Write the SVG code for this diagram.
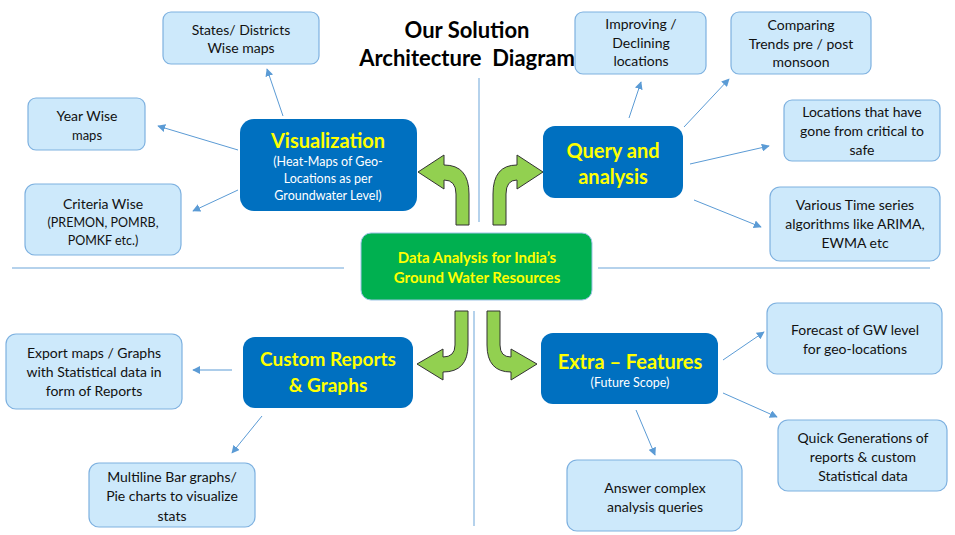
<svg xmlns="http://www.w3.org/2000/svg" width="955" height="535" viewBox="0 0 955 535">
<defs>
<style>
text{font-family:Lato,"Liberation Sans",sans-serif;text-anchor:middle}
.lb{fill:#CDE9FB;stroke:#7EB1E0;stroke-width:1.2}
.lt{font-size:14px;fill:#111}
.db{fill:#0070C0}
.hd{font-size:20px;font-weight:bold;fill:#FFFF00}
.sb{font-size:12.5px;fill:#fff}
.cn{stroke:#5B9BD5;stroke-width:1;fill:none;marker-end:url(#ah)}
.sep{stroke:#9DC3E6;stroke-width:1.5}
.ga{fill:#92D050;stroke:#333;stroke-width:1}
</style>
<marker id="ah" viewBox="0 0 10 10" refX="9" refY="5" markerWidth="8" markerHeight="8" orient="auto" markerUnits="userSpaceOnUse">
<path d="M0,0 L10,5 L0,10 Z" fill="#5B9BD5"/>
</marker>
</defs>
<rect width="955" height="535" fill="#fff"/>
<g id="separators">
<line class="sep" x1="12" y1="268" x2="344" y2="268"/>
<line class="sep" x1="598" y1="268" x2="930" y2="268"/>
<line class="sep" x1="479" y1="78" x2="479" y2="222"/>
<line class="sep" x1="474" y1="311" x2="474" y2="526"/>
</g>
<g id="title">
<text x="467" y="38" style="font-size:22px;font-weight:bold;fill:#000">Our Solution</text>
<text x="467" y="66" style="font-size:22px;font-weight:bold;fill:#000" xml:space="preserve">Architecture  Diagram</text>
</g>
<g id="connectors">
<line class="cn" x1="283" y1="116" x2="267" y2="69"/>
<line class="cn" x1="238" y1="150" x2="158" y2="126"/>
<line class="cn" x1="238" y1="190" x2="193" y2="211"/>
<line class="cn" x1="629" y1="118" x2="641" y2="82"/>
<line class="cn" x1="684" y1="127" x2="729" y2="79"/>
<line class="cn" x1="690" y1="164" x2="769" y2="146"/>
<line class="cn" x1="694" y1="200" x2="761" y2="227"/>
<line class="cn" x1="232" y1="370" x2="193" y2="370"/>
<line class="cn" x1="262" y1="416" x2="232" y2="453"/>
<line class="cn" x1="723" y1="360" x2="764" y2="332"/>
<line class="cn" x1="723" y1="393" x2="777" y2="417"/>
<line class="cn" x1="636" y1="410" x2="655" y2="455"/>
<path class="ga" d="M456 225 L456 194 Q456 180 444 180 L444 189 L418 172 L444 155 L444 165 Q469 165 469 194 L469 225 Z"/>
<path class="ga" d="M506 225 L506 194 Q506 180 517 180 L517 189 L543 172 L517 155 L517 165 Q493 165 493 194 L493 225 Z"/>
<path class="ga" d="M455 311 L468 311 L468 345 Q468 372 443 372 L443 380 L417 364 L443 349 L443 357 Q455 357 455 345 Z"/>
<path class="ga" d="M487 311 L500 311 L500 345 Q500 357 511 357 L511 349 L537 364 L511 380 L511 372 Q487 372 487 345 Z"/>
</g>
<g id="center">
<rect x="361" y="233" width="231" height="67" rx="10" fill="#00B050" stroke="#9DC3E6" stroke-width="1"/>
<text x="477" y="263" style="font-size:15px;font-weight:bold;fill:#FFFF00">Data Analysis for India’s</text>
<text x="477" y="283" style="font-size:15px;font-weight:bold;fill:#FFFF00">Ground Water Resources</text>
</g>
<g id="visualization">
<rect class="db" x="240" y="119" width="177" height="92" rx="14"/>
<text class="hd" x="328" y="148">Visualization</text>
<text class="sb" x="328" y="166">(Heat-Maps of Geo-</text>
<text class="sb" x="328" y="183">Locations as per</text>
<text class="sb" x="328" y="200">Groundwater Level)</text>
</g>
<g id="query">
<rect class="db" x="543" y="126" width="140" height="72" rx="12"/>
<text class="hd" x="613" y="158">Query and</text>
<text class="hd" x="613" y="184">analysis</text>
</g>
<g id="custom">
<rect class="db" x="243" y="337" width="170" height="71" rx="12"/>
<text class="hd" x="328" y="366" style="font-size:19px">Custom Reports</text>
<text class="hd" x="328" y="392" style="font-size:19px">&amp; Graphs</text>
</g>
<g id="extra">
<rect class="db" x="541" y="333" width="177" height="71" rx="12"/>
<text class="hd" x="630" y="369">Extra – Features</text>
<text class="sb" x="630" y="387">(Future Scope)</text>
</g>
<g id="states">
<rect class="lb" x="163" y="12" width="156" height="52" rx="8"/>
<text class="lt" x="241" y="35">States/ Districts</text>
<text class="lt" x="241" y="53">Wise maps</text>
</g>
<g id="year">
<rect class="lb" x="28" y="98" width="117" height="52" rx="8"/>
<text class="lt" x="87" y="121">Year Wise</text>
<text class="lt" x="87" y="140" style="font-size:13px">maps</text>
</g>
<g id="criteria">
<rect class="lb" x="25" y="184" width="156" height="71" rx="10"/>
<text class="lt" x="103" y="209">Criteria Wise</text>
<text class="lt" x="103" y="227" style="font-size:12.5px">(PREMON, POMRB,</text>
<text class="lt" x="103" y="245" style="font-size:12.5px">POMKF etc.)</text>
</g>
<g id="improving">
<rect class="lb" x="575" y="12" width="131" height="62" rx="8"/>
<text class="lt" x="641" y="29">Improving /</text>
<text class="lt" x="641" y="48">Declining</text>
<text class="lt" x="641" y="66">locations</text>
</g>
<g id="comparing">
<rect class="lb" x="731" y="12" width="140" height="62" rx="8"/>
<text class="lt" x="801" y="30">Comparing</text>
<text class="lt" x="801" y="49">Trends pre / post</text>
<text class="lt" x="801" y="67">monsoon</text>
</g>
<g id="critical">
<rect class="lb" x="784" y="100" width="156" height="61" rx="8"/>
<text class="lt" x="862" y="117">Locations that have</text>
<text class="lt" x="862" y="136">gone from critical to</text>
<text class="lt" x="862" y="155">safe</text>
</g>
<g id="timeseries">
<rect class="lb" x="770" y="187" width="170" height="74" rx="10"/>
<text class="lt" x="855" y="210">Various Time series</text>
<text class="lt" x="855" y="229">algorithms like ARIMA,</text>
<text class="lt" x="855" y="248">EWMA etc</text>
</g>
<g id="export">
<rect class="lb" x="6" y="334" width="176" height="75" rx="10"/>
<text class="lt" x="94" y="358">Export maps / Graphs</text>
<text class="lt" x="94" y="377">with Statistical data in</text>
<text class="lt" x="94" y="396">form of Reports</text>
</g>
<g id="multiline">
<rect class="lb" x="89" y="463" width="166" height="64" rx="10"/>
<text class="lt" x="172" y="482">Multiline Bar graphs/</text>
<text class="lt" x="172" y="501">Pie charts to visualize</text>
<text class="lt" x="172" y="521">stats</text>
</g>
<g id="forecast">
<rect class="lb" x="767" y="303" width="175" height="71" rx="10"/>
<text class="lt" x="855" y="335">Forecast of GW level</text>
<text class="lt" x="855" y="354">for geo-locations</text>
</g>
<g id="quick">
<rect class="lb" x="778" y="420" width="169" height="71" rx="10"/>
<text class="lt" x="863" y="443">Quick Generations of</text>
<text class="lt" x="863" y="462">reports &amp; custom</text>
<text class="lt" x="863" y="481">Statistical data</text>
</g>
<g id="answer">
<rect class="lb" x="567" y="460" width="175" height="71" rx="10"/>
<text class="lt" x="655" y="493">Answer complex</text>
<text class="lt" x="655" y="512">analysis queries</text>
</g>
</svg>
